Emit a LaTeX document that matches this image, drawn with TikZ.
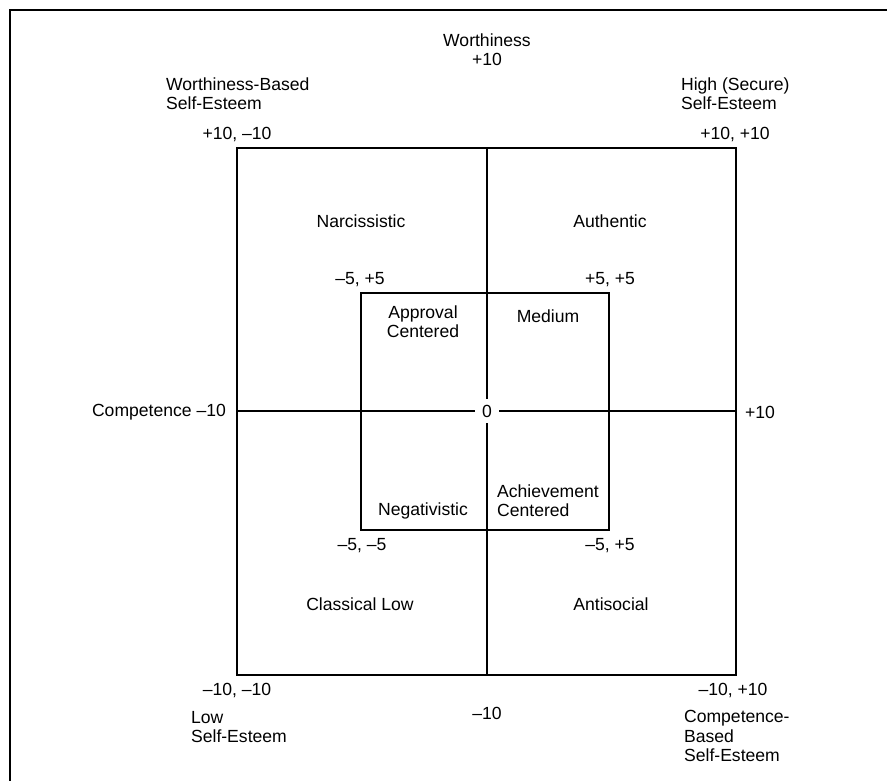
\documentclass[tikz,border=0pt]{standalone}
\usepackage{fontspec}
\setmainfont{Liberation Sans}

\begin{document}
\begin{tikzpicture}[x=0.03cm, y=-0.03cm, line width=1.9pt,
    lbl/.style = {font=\fontsize{15}{16.5}\selectfont, inner sep=0pt, align=center},
    lblw/.style = {lbl, align=left, anchor=west},
    zero/.style = {lbl, fill=white, inner xsep=6pt, inner ysep=5pt}]

    \useasboundingbox (0,0) rectangle (887,781);

    % frame
    \draw[line width=1.6pt] (10,781) -- (10,10) -- (887,10);

    % squares
    \coordinate (nw) at (237,148);
    \coordinate (se) at (736,675);
    \coordinate (inw) at (361,293);
    \coordinate (ise) at (609,530);
    \draw (nw) rectangle (se);
    \draw (inw) rectangle (ise);

    % axes
    \coordinate (top) at (487,148);
    \coordinate (bot) at (487,675);
    \coordinate (lft) at (237,411);
    \coordinate (rgt) at (736,411);
    \draw (top) -- (bot);
    \draw (lft) -- (rgt);
    \node[zero] (origin) at (487,411) {0};

    % axis labels
    \node[lbl] (worth) at (487,50) {Worthiness\\+10};
    \node[lbl, anchor=east] (compet) at (227,412) {Competence --10};
    \node[lbl, anchor=west] (plusten) at (744,412) {+10};
    \node[lbl] (minusten) at (487,713) {--10};

    % corners
    \node[lblw] (wbse) at (165,94) {Worthiness-Based\\Self-Esteem};
    \node[lbl] (cnw) at (237,134) {+10, --10};
    \node[lblw] (hse) at (680,94) {High (Secure)\\Self-Esteem};
    \node[lbl] (cne) at (735,134) {+10, +10};
    \node[lbl] (csw) at (237,690) {--10, --10};
    \node[lblw] (lse) at (190,727) {Low\\Self-Esteem};
    \node[lbl] (cse) at (733,690) {--10, +10};
    \node[lblw] (cbse) at (683,736) {Competence-\\Based\\Self-Esteem};

    % outer quadrants
    \node[lbl] (narc) at (361,221) {Narcissistic};
    \node[lbl] (auth) at (610,221) {Authentic};
    \node[lbl] (class) at (360,604) {Classical Low};
    \node[lbl] (anti) at (611,604) {Antisocial};

    % inner square
    \node[lbl] (inw-lbl) at (360,280) {--5, +5};
    \node[lbl] (ine-lbl) at (610,280) {+5, +5};
    \node[lbl] (isw-lbl) at (362,546) {--5, --5};
    \node[lbl] (ise-lbl) at (610,546) {--5, +5};
    \node[lbl] (appr) at (423,322) {Approval\\Centered};
    \node[lbl] (med) at (548,316) {Medium};
    \node[lbl] (neg) at (423,511) {Negativistic};
    \node[lbl, align=left] (achv) at (548,501) {Achievement\\Centered};

\end{tikzpicture}
\end{document}
